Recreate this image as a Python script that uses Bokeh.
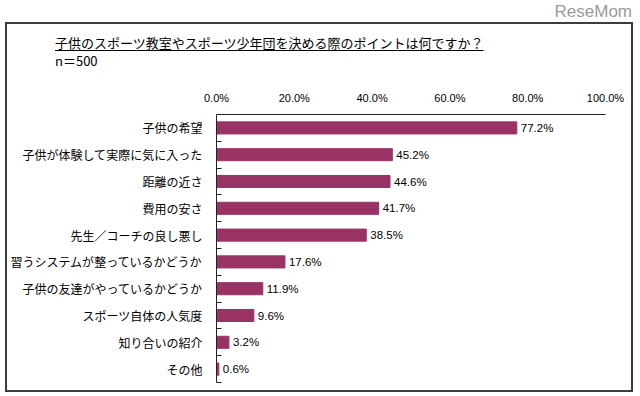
from bokeh.plotting import figure
from bokeh.models import (Range1d, FixedTicker, PrintfTickFormatter, ColumnDataSource, Div)
from bokeh.layouts import column
from bokeh.embed import file_html
from bokeh.resources import INLINE
from bokeh.core.properties import value

# ---- data ----
categories = ["子供の希望", "子供が体験して実際に気に入った", "距離の近さ", "費用の安さ",
              "先生／コーチの良し悪し", "習うシステムが整っているかどうか",
              "子供の友達がやっているかどうか", "スポーツ自体の人気度", "知り合いの紹介", "その他"]
values = [77.2, 45.2, 44.6, 41.7, 38.5, 17.6, 11.9, 9.6, 3.2, 0.6]
x_ticks = [0, 20, 40, 60, 80, 100]
title_text = "子供のスポーツ教室やスポーツ少年団を決める際のポイントは何ですか？"
n_text = "n＝500"
watermark = "ReseMom"

JP = "Noto Sans CJK JP"
NARROW = "Liberation Sans Narrow, Arial Narrow, Liberation Sans"
BAR = "#993366"

pos = [i + 0.5 for i in range(len(categories))]
src = ColumnDataSource(dict(y=pos, v=values, lab=["%.1f%%" % v for v in values]))

PW, PH = 624, 320
p = figure(width=PW, height=PH, output_backend="svg", toolbar_location=None,
           x_range=Range1d(0, 100), y_range=Range1d(len(categories), 0),
           x_axis_location="above", min_border_left=207, min_border_right=26,
           min_border_top=44, min_border_bottom=8)
p.margin = 0
p.outline_line_color = None
p.xgrid.visible = False
p.ygrid.visible = False

p.hbar(y="y", right="v", left=0, height=0.45, source=src,
       fill_color=BAR, line_color=BAR)
p.text(x="v", y="y", text="lab", source=src, x_offset=4,
       text_baseline="middle", text_align="left", text_font=value(NARROW),
       text_font_size="11.5px", text_color="#000000")

xa = p.xaxis[0]
xa.ticker = FixedTicker(ticks=x_ticks)
xa.formatter = PrintfTickFormatter(format="%.1f%%")
xa.major_tick_line_color = None
xa.minor_tick_line_color = None
xa.major_tick_in = 0
xa.major_tick_out = 0
xa.minor_tick_out = 0
xa.major_label_standoff = 11
xa.major_label_text_font = NARROW
xa.major_label_text_font_size = "11px"
xa.major_label_text_color = "#000000"
xa.axis_line_color = "#222222"

ya = p.yaxis[0]
ya.ticker = FixedTicker(ticks=pos, minor_ticks=list(range(1, len(categories) + 1)))
ya.major_label_overrides = {t: c for t, c in zip(pos, categories)}
ya.major_tick_line_color = None
ya.major_tick_in = 0
ya.major_tick_out = 0
ya.minor_tick_in = 5
ya.minor_tick_out = 0
ya.minor_tick_line_color = "#222222"
ya.major_label_standoff = 14
ya.major_label_text_font = JP
ya.major_label_text_font_size = "12px"
ya.major_label_text_color = "#000000"
ya.axis_line_color = "#222222"

header = Div(width=PW, height=46, margin=0, text=(
    '<div style="position:relative;width:%dpx;height:46px;font-family:\'%s\';color:#000">'
    '<span style="position:absolute;left:48px;top:11px;font-size:13px;line-height:15px;'
    'white-space:nowrap;text-decoration:underline;text-underline-offset:2px">%s</span>'
    '<span style="position:absolute;left:48px;top:29px;font-size:13px;line-height:15px;'
    'white-space:nowrap">%s</span></div>') % (PW, JP, title_text, n_text))

inner = column(header, p, spacing=0, margin=(2, 0, 0, 7),
               styles={"outline": "2px solid #3c3c3c", "outline-offset": "0px"})

wm = Div(width=640, height=22, margin=0, text=(
    '<div style="width:640px;height:22px;box-sizing:border-box;padding:2px 8px 0 0;'
    'text-align:right;font-family:\'Liberation Sans\';font-size:17px;line-height:19px;'
    'color:#9a9a9a">%s</div>') % watermark)

layout = column(wm, inner, spacing=0, margin=0)

open("out.html", "w").write(file_html(layout, INLINE))
